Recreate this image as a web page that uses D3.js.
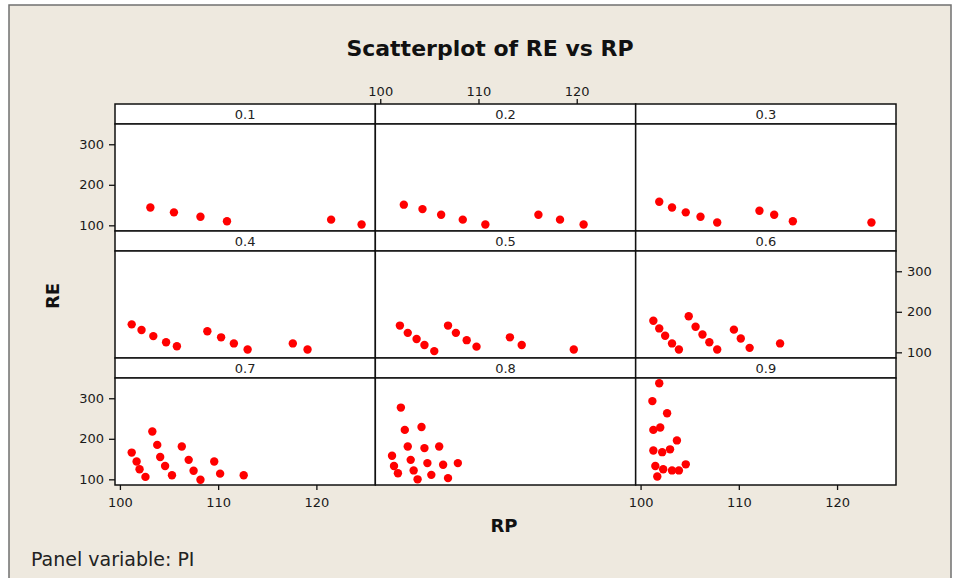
<!DOCTYPE html>
<html>
<head>
<meta charset="utf-8">
<script src="https://cdn.jsdelivr.net/npm/d3@7"></script>
<style>
  body { margin: 0; background: #fff; }
  svg text { font-family: "DejaVu Sans", Verdana, sans-serif; }
</style>
</head>
<body>
<svg id="chart"></svg>
<script>
// panel labels (PI) and the RP / RE values
var panelLabels = ["0.1", "0.2", "0.3", "0.4", "0.5", "0.6", "0.7", "0.8", "0.9"];

var rp01 = [103.1, 105.5, 108.2, 110.9, 121.5, 124.6];
var re01 = [144, 132, 121, 110, 114, 102];

var rp02 = [102.4, 104.3, 106.2, 108.4, 110.7, 116.1, 118.3, 120.7];
var re02 = [151, 140, 126, 114, 102, 126, 114, 102];

var rp03 = [101.9, 103.2, 104.6, 106.1, 107.8, 112.1, 113.6, 115.5, 123.5];
var re03 = [158, 144, 132, 121, 107, 136, 126, 110, 107];

var rp04 = [101.2, 102.2, 103.4, 104.7, 105.8, 108.9, 110.3, 111.6, 113.0, 117.6, 119.1];
var re04 = [169, 155, 140, 125, 115, 152, 137, 122, 107, 122, 107];

var rp05 = [102.0, 102.8, 103.7, 104.5, 105.5, 106.9, 107.7, 108.8, 109.8, 113.2, 114.4, 119.7];
var re05 = [166, 148, 133, 118, 103, 166, 148, 130, 114, 137, 118, 107];

var rp06 = [101.3, 101.9, 102.5, 103.2, 103.9, 104.9, 105.6, 106.3, 107.0, 107.8, 109.5, 110.2, 111.1, 114.2];
var re06 = [178, 159, 141, 122, 107, 189, 163, 144, 125, 107, 156, 134, 111, 122];

var rp07 = [101.2, 101.7, 102.0, 102.6, 103.3, 103.8, 104.1, 104.6, 105.3, 106.3, 107.0, 107.5, 108.2, 109.6, 110.2, 112.6];
var re07 = [166, 144, 125, 106, 218, 185, 155, 133, 110, 181, 148, 121, 99, 144, 114, 110];

var rp08 = [102.1, 102.5, 104.2, 102.8, 104.5, 106.0, 101.2, 103.1, 104.8, 106.4, 107.9, 101.4, 103.4, 101.8, 105.2, 103.8, 106.9];
var re08 = [277, 222, 229, 181, 177, 181, 158, 148, 140, 136, 140, 133, 122, 115, 111, 100, 103];

var rp09 = [101.9, 101.2, 102.7, 101.3, 102.0, 103.7, 101.3, 102.2, 103.0, 104.6, 101.5, 102.3, 103.2, 103.9, 101.7];
var re09 = [337, 293, 263, 222, 228, 196, 171, 167, 174, 137, 133, 125, 122, 122, 107];

var xTicks = [100, 110, 120];
var yTicks = [100, 200, 300];

var rpAll = [rp01, rp02, rp03, rp04, rp05, rp06, rp07, rp08, rp09];
var reAll = [re01, re02, re03, re04, re05, re06, re07, re08, re09];

var svgWidth = 956, svgHeight = 578;
var gridLeft = 115, gridTop = 104, gridRight = 896, gridBottom = 485;
var colW = (gridRight - gridLeft) / 3;
var rowH = (gridBottom - gridTop) / 3;
var stripH = 20;
var plotH = rowH - stripH;

var svg = d3.select("#chart")
    .attr("width", svgWidth)
    .attr("height", svgHeight);

// beige background with grey frame
svg.append("rect")
    .attr("x", 9).attr("y", 5)
    .attr("width", 942).attr("height", 580)
    .attr("fill", "#eee9df")
    .attr("stroke", "#707070")
    .attr("stroke-width", 1.5);

// same scales for every panel
var x = d3.scaleLinear().domain([99.5, 126]).range([0, colW]);
var y = d3.scaleLinear().domain([86, 350]).range([plotH, 0]);

var panels = panelLabels.map(function(lab, i) {
    return {
        label: lab,
        col: i % 3,
        row: Math.floor(i / 3),
        points: rpAll[i].map(function(v, j) { return { rp: v, re: reAll[i][j] }; })
    };
});

panels.forEach(function(p) {
    var g = svg.append("g")
        .attr("transform", "translate(" + (gridLeft + p.col * colW) + "," + (gridTop + p.row * rowH) + ")");

    // strip with panel value
    g.append("rect")
        .attr("width", colW).attr("height", stripH)
        .attr("fill", "#fff").attr("stroke", "#111").attr("stroke-width", 1.5);
    g.append("text")
        .attr("x", colW / 2).attr("y", stripH / 2 + 5)
        .attr("text-anchor", "middle")
        .attr("font-size", 13)
        .attr("fill", "#222")
        .text(p.label);

    var plot = g.append("g").attr("transform", "translate(0," + stripH + ")");
    plot.append("rect")
        .attr("width", colW).attr("height", plotH)
        .attr("fill", "#fff").attr("stroke", "#111").attr("stroke-width", 1.5);

    plot.selectAll("circle")
        .data(p.points)
        .enter()
        .append("circle")
        .attr("cx", function(d) { return x(d.rp); })
        .attr("cy", function(d) { return y(d.re); })
        .attr("r", 4.2)
        .attr("fill", "#ff0000");

    // axes only on the outer sides, alternating like the original
    if (p.col === 0 && p.row !== 1) {
        styleAxis(plot.append("g")
            .call(d3.axisLeft(y).tickValues(yTicks).tickSize(6).tickPadding(5)));
    }
    if (p.col === 2 && p.row === 1) {
        styleAxis(plot.append("g").attr("transform", "translate(" + colW + ",0)")
            .call(d3.axisRight(y).tickValues(yTicks).tickSize(6).tickPadding(5)));
    }
    if (p.row === 0 && p.col === 1) {
        styleAxis(g.append("g")
            .call(d3.axisTop(x).tickValues(xTicks).tickSize(5).tickPadding(3)));
    }
    if (p.row === 2 && p.col !== 1) {
        styleAxis(plot.append("g").attr("transform", "translate(0," + plotH + ")")
            .call(d3.axisBottom(x).tickValues(xTicks).tickSize(5).tickPadding(8)));
    }
});

function styleAxis(sel) {
    sel.select(".domain").remove();
    sel.selectAll(".tick line").attr("stroke", "#111").attr("stroke-width", 1.3);
    sel.selectAll(".tick text")
        .attr("font-family", "DejaVu Sans, Verdana, sans-serif")
        .attr("font-size", 13)
        .attr("fill", "#1a1a1a");
}

// titles
svg.append("text")
    .attr("x", 490).attr("y", 56)
    .attr("text-anchor", "middle")
    .attr("font-size", 22)
    .attr("font-weight", "bold")
    .attr("fill", "#111")
    .text("Scatterplot of RE vs RP");

svg.append("text")
    .attr("x", 504).attr("y", 532)
    .attr("text-anchor", "middle")
    .attr("font-size", 18)
    .attr("font-weight", "bold")
    .attr("fill", "#111")
    .text("RP");

svg.append("text")
    .attr("transform", "translate(59,296) rotate(-90)")
    .attr("text-anchor", "middle")
    .attr("font-size", 18)
    .attr("font-weight", "bold")
    .attr("fill", "#111")
    .text("RE");

svg.append("text")
    .attr("x", 31).attr("y", 566)
    .attr("font-size", 19)
    .attr("fill", "#222")
    .text("Panel variable: PI");
</script>
</body>
</html>
